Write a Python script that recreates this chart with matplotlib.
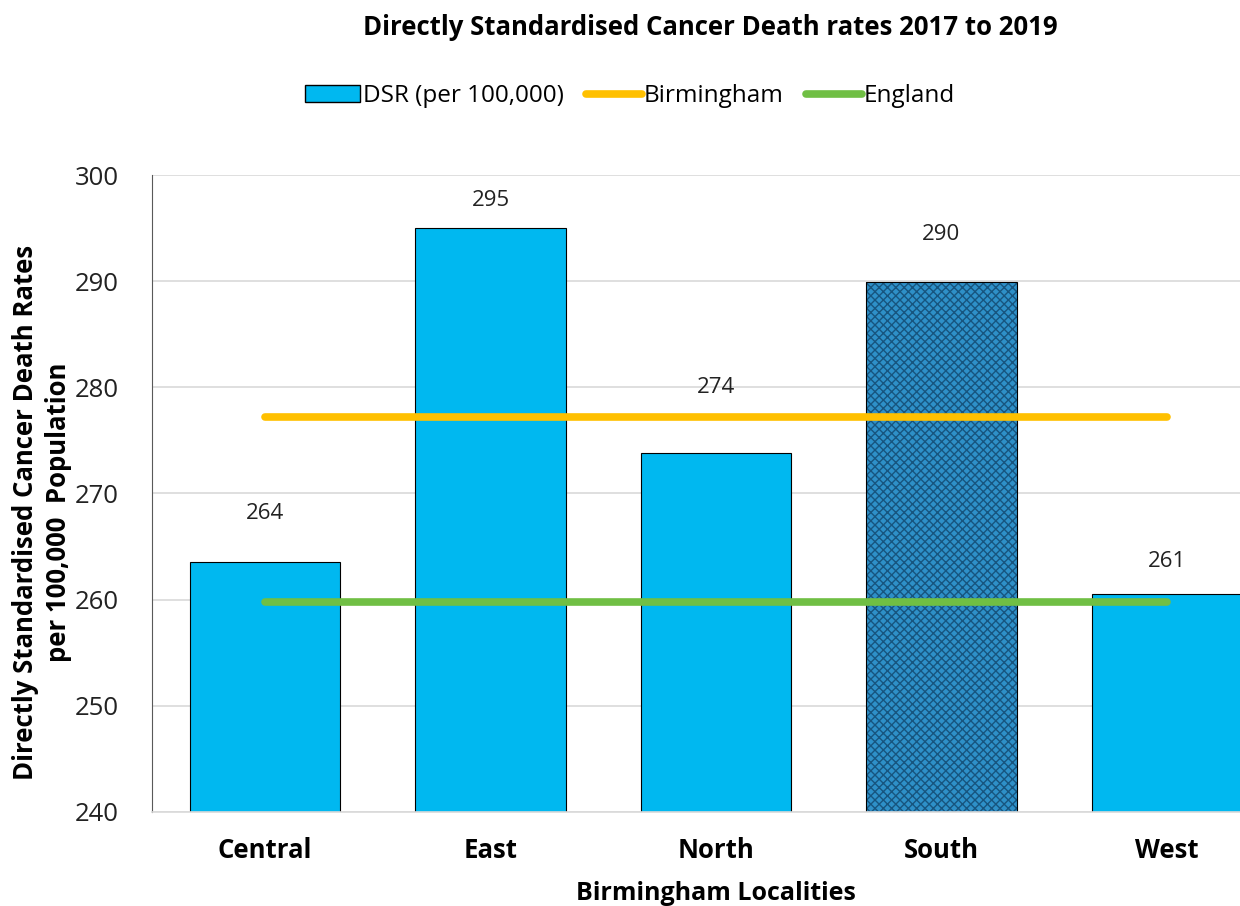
import numpy as np
import matplotlib.pyplot as plt
from matplotlib.patches import Patch

# Data
localities = ['Central', 'East', 'North', 'South', 'West']
dsr = [263.5, 295.0, 273.8, 289.9, 260.5]
dsr_labels = ['264', '295', '274', '290', '261']
birmingham = 277.2
england = 259.8
label_offsets = [28, 12, 40, 27, 16]  # points above bar top (Excel places them around the lines)

plt.rcParams['font.family'] = ['Open Sans', 'DejaVu Sans']

fig = plt.figure(figsize=(12.4, 9.06), dpi=100)
ax = fig.add_axes([0.1226, 0.1038, 0.9097, 0.7030])

x = np.arange(len(localities))
colors = ['#00B8F0'] * len(localities)
bars = ax.bar(x, dsr, width=0.667, color=colors, edgecolor='black', linewidth=0.8, zorder=2)

# South bar gets the patterned fill
south = localities.index('South')
bars[south].set_visible(False)
ax.bar(x[south], dsr[south], width=0.667, color='#2E90C8', edgecolor='#17557F',
       hatch='xxxx', linewidth=0, zorder=2)
ax.bar(x[south], dsr[south], width=0.667, fill=False, edgecolor='black', linewidth=0.8, zorder=2)

ax.plot([x[0], x[-1]], [birmingham, birmingham], color='#FFC000', lw=5.5,
        solid_capstyle='round', zorder=3, label='Birmingham')
ax.plot([x[0], x[-1]], [england, england], color='#70BF44', lw=5.5,
        solid_capstyle='round', zorder=3, label='England')

for xi, v, lab, off in zip(x, dsr, dsr_labels, label_offsets):
    ax.annotate(lab, (xi, v), xytext=(0, off), textcoords='offset points',
                ha='center', va='bottom', fontsize=16, color='#222222')

ax.set_ylim(240, 300)
ax.set_xlim(-0.502, 4.502)
ax.set_yticks(np.arange(240, 301, 10))
ax.set_xticks(x)
ax.set_xticklabels(localities, fontsize=18.5, fontweight='bold')
ax.tick_params(axis='y', labelsize=18.5, length=0, pad=24, colors='#222222')
ax.tick_params(axis='x', length=0, pad=18)
ax.grid(axis='y', color='#D9D9D9', lw=1.2, zorder=0)
ax.set_axisbelow(True)
for s in ['top', 'right']:
    ax.spines[s].set_visible(False)
ax.spines['left'].set_color('#595959')
ax.spines['bottom'].set_color('#D9D9D9')
ax.spines['bottom'].set_linewidth(1.2)

ax.set_xlabel('Birmingham Localities', fontsize=18, fontweight='bold', labelpad=12)
ax.set_ylabel('Directly Standardised Cancer Death Rates\nper 100,000  Population',
              fontsize=18.5, fontweight='bold', linespacing=1.3)
ax.yaxis.set_label_coords(-0.071, 0.47)

fig.text(0.573, 0.97, 'Directly Standardised Cancer Death rates 2017 to 2019',
         ha='center', va='center', fontsize=18.5, fontweight='bold')

handles = [Patch(facecolor='#00B8F0', edgecolor='black', label='DSR (per 100,000)')]
handles += ax.get_lines()
fig.legend(handles=handles, loc='center', bbox_to_anchor=(0.508, 0.894), ncol=3,
           frameon=False, fontsize=17.5, handlelength=2.3, handletextpad=0.1,
           columnspacing=0.9)

fig.savefig('out.png', dpi=100)
